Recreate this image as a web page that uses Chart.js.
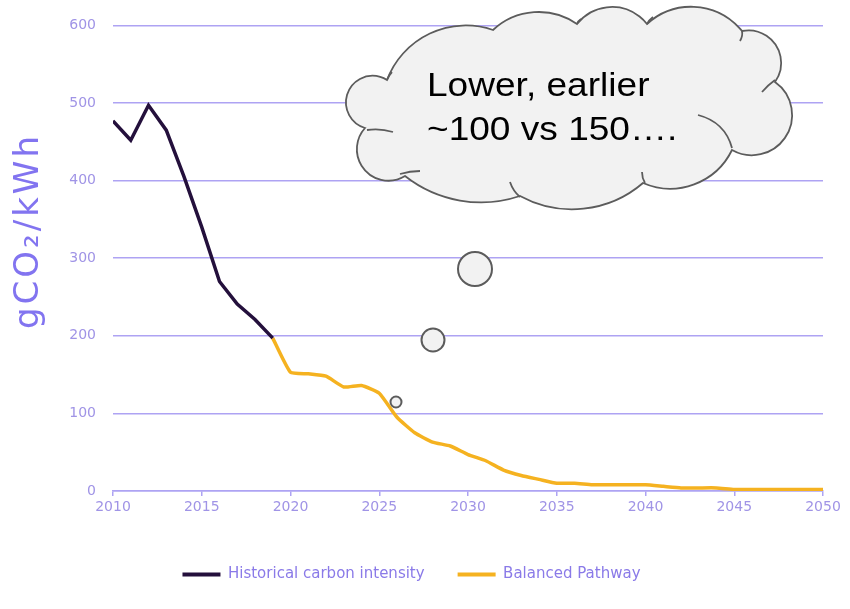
<!DOCTYPE html>
<html>
<head>
<meta charset="utf-8">
<title>Carbon intensity</title>
<script src="https://cdn.jsdelivr.net/npm/chart.js@4/dist/chart.umd.min.js"></script>
<style>
  html, body { margin: 0; padding: 0; background: #fff; }
  #wrap { width: 850px; height: 609px; }
</style>
</head>
<body>
<div id="wrap"><canvas id="chart" width="850" height="609"></canvas></div>
<script>
// historical grid intensity, gCO2/kWh
const histYears = [2010, 2011, 2012, 2013, 2014, 2015, 2016, 2017, 2018, 2019];
const histValues = [477, 452, 497, 465, 405, 340, 270, 241, 221, 197];

// balanced pathway projection
const pathYears = [2019, 2020, 2021, 2022, 2023, 2024, 2025, 2026, 2027, 2028, 2029,
  2030, 2031, 2032, 2033, 2034, 2035, 2036, 2037, 2038, 2039, 2040,
  2041, 2042, 2043, 2044, 2045, 2046, 2047, 2048, 2049, 2050];
const pathValues = [197, 153, 151, 148, 134, 136, 126, 95, 75, 63, 58,
  47, 39, 27, 20, 15, 10, 10, 8, 8, 8, 8,
  6, 4, 4, 4, 2, 2, 2, 2, 2, 2];

const yTicks = [0, 100, 200, 300, 400, 500, 600];
const xTicks = [2010, 2015, 2020, 2025, 2030, 2035, 2040, 2045, 2050];
const seriesNames = ['Historical carbon intensity', 'Balanced Pathway'];
const yTitle = 'gCO\u2082/kWh';
const noteLines = ['Lower, earlier', '~100 vs 150\u2026.'];

const lavender = '#aea3f3';
const tickColor = '#a094e6';

const toPoints = (xs, ys) => xs.map((x, i) => ({ x, y: ys[i] }));

// thought bubble outline: cusps where lobes meet, and one point on top of each lobe
const cloudCusps = [[387, 80], [493, 30], [577, 24], [647, 24], [742, 31], [775, 82],
  [732, 150], [643, 183], [520, 196], [405, 176], [365, 128]];
const cloudPeaks = [[425, 36], [538, 12], [612, 7], [697, 7], [781, 60], [792, 112],
  [695, 184], [580, 209], [463, 201], [357, 152], [346, 104]];
const cloudCreases = [
  [[762, 92], [768, 85], [775, 80]],
  [[698, 115], [725, 122], [732, 148]],
  [[642, 172], [642, 178], [645, 183]],
  [[510, 182], [513, 191], [520, 197]],
  [[400, 174], [410, 171], [420, 171]],
  [[367, 130], [380, 128], [393, 132]],
  [[742, 31], [743, 36], [740, 41]],
  [[577, 24], [578, 21], [581, 19]],
  [[647, 24], [649, 20], [653, 17]],
  [[387, 80], [389, 75], [392, 72]]
];
const dots = [[475, 269, 17], [433, 340, 11.5], [396, 402, 5.5]];

// circular arc from a to c passing through b
function arcThrough(ctx, a, b, c) {
  const [ax, ay] = a, [bx, by] = b, [cx, cy] = c;
  const d = 2 * (ax * (by - cy) + bx * (cy - ay) + cx * (ay - by));
  const a2 = ax * ax + ay * ay, b2 = bx * bx + by * by, c2 = cx * cx + cy * cy;
  const ux = (a2 * (by - cy) + b2 * (cy - ay) + c2 * (ay - by)) / d;
  const uy = (a2 * (cx - bx) + b2 * (ax - cx) + c2 * (bx - ax)) / d;
  const r = Math.hypot(ax - ux, ay - uy);
  const t0 = Math.atan2(ay - uy, ax - ux);
  const tm = Math.atan2(by - uy, bx - ux);
  const t1 = Math.atan2(cy - uy, cx - ux);
  const norm = t => ((t % (2 * Math.PI)) + 2 * Math.PI) % (2 * Math.PI);
  const clockwise = norm(tm - t0) < norm(t1 - t0);
  ctx.arc(ux, uy, r, t0, t1, !clockwise);
}

const calloutPlugin = {
  id: 'callout',
  afterDraw(chart) {
    const ctx = chart.ctx;
    ctx.save();

    // y axis title, drawn by hand so it can sit a bit above the middle
    ctx.save();
    ctx.translate(29, 231);
    ctx.rotate(-Math.PI / 2);
    ctx.font = '34px "DejaVu Sans"';
    if ('letterSpacing' in ctx) ctx.letterSpacing = '3px';
    ctx.fillStyle = '#8274f0';
    ctx.textAlign = 'center';
    ctx.textBaseline = 'middle';
    ctx.fillText(yTitle, 0, 0);
    ctx.restore();

    ctx.strokeStyle = '#5c5c5c';
    ctx.fillStyle = '#f2f2f2';

    // little circles leading up to the cloud
    ctx.lineWidth = 2;
    dots.forEach(([x, y, r]) => {
      ctx.beginPath();
      ctx.arc(x, y, r, 0, Math.PI * 2);
      ctx.fill();
      ctx.stroke();
    });

    // cloud outline
    ctx.lineWidth = 1.8;
    ctx.beginPath();
    ctx.moveTo(cloudCusps[0][0], cloudCusps[0][1]);
    cloudCusps.forEach((p, i) => {
      arcThrough(ctx, p, cloudPeaks[i], cloudCusps[(i + 1) % cloudCusps.length]);
    });
    ctx.closePath();
    ctx.fill();
    ctx.stroke();

    cloudCreases.forEach(([a, b, c]) => {
      ctx.beginPath();
      ctx.moveTo(a[0], a[1]);
      ctx.quadraticCurveTo(b[0], b[1], c[0], c[1]);
      ctx.stroke();
    });

    ctx.fillStyle = '#000';
    ctx.font = '34px "Liberation Sans", Arial, sans-serif';
    ctx.textAlign = 'left';
    ctx.textBaseline = 'alphabetic';
    [[noteLines[0], 96], [noteLines[1], 140]].forEach(([txt, y]) => {
      ctx.save();
      ctx.translate(427, y);
      ctx.scale(1.09, 1);
      ctx.fillText(txt, 0, 0);
      ctx.restore();
    });

    ctx.restore();
  }
};

new Chart(document.getElementById('chart'), {
  type: 'line',
  data: {
    datasets: [
      {
        label: seriesNames[0],
        data: toPoints(histYears, histValues),
        borderColor: '#24103c',
        backgroundColor: '#24103c',
        borderWidth: 3.5,
        pointRadius: 0,
        tension: 0
      },
      {
        label: seriesNames[1],
        data: toPoints(pathYears, pathValues),
        borderColor: '#f5b220',
        backgroundColor: '#f5b220',
        borderWidth: 3.5,
        pointRadius: 0,
        tension: 0.15
      }
    ]
  },
  options: {
    responsive: false,
    animation: false,
    layout: { padding: { left: 0, right: 27, top: 23, bottom: 17 } },
    plugins: {
      tooltip: { enabled: false },
      legend: {
        position: 'bottom',
        labels: {
          boxWidth: 38,
          boxHeight: 4,
          padding: 33,
          color: '#8a7ae8',
          font: { family: 'DejaVu Sans', size: 15 },
          generateLabels(chart) {
            return Chart.defaults.plugins.legend.labels.generateLabels(chart)
              .map(item => ({ ...item, lineWidth: 0 }));
          }
        }
      }
    },
    scales: {
      x: {
        type: 'linear',
        min: 2010,
        max: 2050,
        afterBuildTicks: scale => { scale.ticks = xTicks.map(v => ({ value: v })); },
        afterFit: scale => { scale.height = 43; },
        grid: { drawOnChartArea: false, drawTicks: true, tickLength: 5, color: lavender, lineWidth: 1.5 },
        border: { display: true, color: lavender, width: 1.5 },
        ticks: {
          color: tickColor,
          padding: 3,
          font: { family: 'DejaVu Sans', size: 14 },
          callback: v => String(v)
        }
      },
      y: {
        min: 0,
        max: 600,
        afterBuildTicks: scale => { scale.ticks = yTicks.map(v => ({ value: v })); },
        afterFit: scale => { scale.width = 113; },
        grid: { color: lavender, lineWidth: 1.5, drawTicks: false },
        border: { display: false },
        ticks: {
          color: tickColor,
          padding: 17,
          font: { family: 'DejaVu Sans', size: 14 }
        }
      }
    }
  },
  plugins: [calloutPlugin]
});
</script>
</body>
</html>
